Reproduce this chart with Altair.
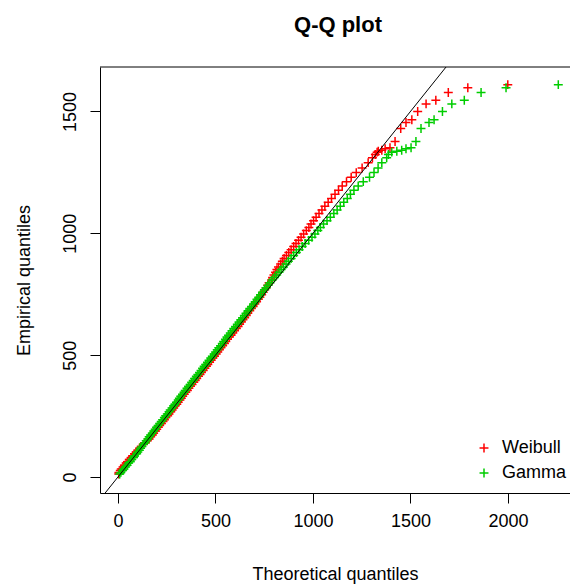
import altair as alt
import pandas as pd

# Sorted sample (empirical quantiles)
empirical = [
    12, 19, 27, 33, 41, 48, 57, 63, 72, 80, 86, 95, 103, 110, 118, 125, 134, 141, 149, 156,
    165, 172, 180, 189, 196, 204, 211, 220, 228, 235, 244, 251, 259, 268, 275, 283, 292, 299,
    307, 316, 323, 331, 340, 348, 355, 364, 372, 380, 389, 396, 404, 413, 421, 429, 437, 446,
    454, 462, 471, 479, 488, 496, 505, 513, 522, 530, 539, 548, 556, 565, 574, 582, 591, 600,
    609, 618, 627, 636, 645, 654, 663, 672, 682, 691, 700, 710, 719, 729, 738, 748, 758, 768,
    777, 787, 797,
    808, 819, 829, 840, 851, 862, 874, 885, 897, 909, 921, 933, 946, 958, 971, 984, 997, 1011,
    1024, 1038, 1052, 1066, 1081, 1096,
    1111, 1127, 1143, 1160, 1177, 1194, 1212, 1230, 1249, 1268,
    1290, 1310, 1323, 1333, 1337, 1341, 1347, 1351, 1377, 1430, 1455, 1466, 1500, 1531, 1546,
    1578, 1597, 1610,
]

# Theoretical quantiles of the fitted Weibull distribution
weibull_q = [
    4, 5, 12, 17, 26, 33, 42, 49, 58, 68, 75, 85, 94, 102, 111, 119, 130, 137, 150, 160,
    168, 176, 183, 193, 199, 207, 214, 223, 231, 238, 246, 255, 262, 271, 278, 286, 294, 302,
    309, 318, 325, 332, 340, 348, 356, 364, 372, 380, 389, 396, 404, 413, 421, 428, 437, 446,
    454, 461, 470, 478, 487, 495, 504, 512, 520, 528, 537, 546, 553, 562, 571, 580, 589, 598,
    607, 616, 624, 633, 641, 650, 658, 666, 676, 684, 693, 702, 711, 720, 728, 737, 745, 753,
    760, 768, 775,
    788, 793, 800, 808, 815, 823, 834, 843, 852, 864, 876, 888, 901, 913, 926, 939, 952, 966,
    979, 990, 1003, 1016, 1031, 1046,
    1061, 1078, 1095, 1113, 1131, 1150, 1172, 1196, 1222, 1252,
    1283, 1305, 1320, 1329, 1335, 1353, 1370, 1395, 1421, 1450, 1477, 1507, 1537, 1580, 1630,
    1694, 1794, 1999,
]

# Theoretical quantiles of the fitted gamma distribution
gamma_q = [
    9, 15, 24, 31, 38, 47, 55, 63, 71, 80, 85, 96, 102, 110, 116, 123, 131, 139, 145, 153,
    160, 167, 176, 184, 191, 198, 206, 214, 222, 229, 238, 245, 253, 262, 268, 277, 286, 292,
    300, 309, 315, 322, 331, 339, 345, 354, 362, 370, 378, 386, 393, 402, 410, 418, 426, 434,
    442, 450, 459, 467, 476, 484, 493, 501, 509, 517, 526, 535, 542, 551, 559, 567, 576, 585,
    594, 603, 612, 621, 630, 639, 648, 657, 667, 676, 685, 695, 704, 713, 722, 731, 741, 751,
    760, 770, 780,
    791, 803, 814, 826, 837, 849, 862, 874, 888, 901, 915, 929, 945, 960, 978, 995, 1010, 1025,
    1038, 1054, 1072, 1089, 1107, 1124,
    1140, 1158, 1176, 1192, 1210, 1232, 1258, 1290, 1313, 1334,
    1353, 1378, 1387, 1404, 1430, 1455, 1477, 1503, 1528, 1554, 1595, 1621, 1664, 1712, 1776,
    1862, 1990, 2258,
]

fits = ["Weibull", "Gamma"]
fit_colors = ["#FF0000", "#00CD00"]
x_ticks = [0, 500, 1000, 1500, 2000]
y_ticks = [0, 500, 1000, 1500]
x_range = [-92, 2318]
y_range = [-65.6, 1682.4]
# y = x reference line, spanning the vertical extent of the panel
diag_ends = [-65.6, 1682.4]

rows = []
for name, theo in zip(fits, (weibull_q, gamma_q)):
    for t, e in zip(theo, empirical):
        rows.append({"fit": name, "theoretical": t, "empirical": e})
points_df = pd.DataFrame(rows)
diag_df = pd.DataFrame({"theoretical": diag_ends, "empirical": diag_ends})

FONT = "Liberation Sans"
PLUS = "M-1,0L1,0M0,-1L0,1"

x_scale = alt.Scale(domain=x_range, nice=False, zero=False)
y_scale = alt.Scale(domain=y_range, nice=False, zero=False)

points = alt.Chart(points_df).mark_point(
    shape=PLUS, filled=False, size=80, strokeWidth=1.5, opacity=1
).encode(
    x=alt.X(
        "theoretical:Q",
        scale=x_scale,
        axis=alt.Axis(
            values=x_ticks,
            format="d",
            title="Theoretical quantiles",
            titleY=86,
            titleBaseline="alphabetic",
            labelPadding=9,
            labelBaseline="top",
        ),
    ),
    y=alt.Y(
        "empirical:Q",
        scale=y_scale,
        axis=alt.Axis(
            values=y_ticks,
            format="d",
            title="Empirical quantiles",
            titleX=-71,
            titleY=213,
            titleAngle=270,
            titleBaseline="alphabetic",
            titleAlign="center",
            labelAngle=270,
            labelAlign="center",
            labelBaseline="alphabetic",
            labelPadding=15,
        ),
    ),
    color=alt.Color(
        "fit:N",
        scale=alt.Scale(domain=fits, range=fit_colors),
        sort=fits,
        legend=alt.Legend(
            title=None,
            orient="none",
            legendX=375,
            legendY=372,
            symbolType=PLUS,
            symbolSize=80,
            symbolStrokeWidth=1.5,
            symbolFillColor="transparent",
            labelFontSize=18,
            labelFont=FONT,
            labelColor="#000000",
            labelOffset=9,
            rowPadding=7,
            padding=0,
        ),
    ),
)

diagonal = alt.Chart(diag_df).mark_line(
    color="#000000", strokeWidth=1
).encode(
    x=alt.X("theoretical:Q", scale=x_scale),
    y=alt.Y("empirical:Q", scale=y_scale),
)

top_edge = alt.Chart(pd.DataFrame({"a": [0]})).mark_rule(
    color="#000000", strokeWidth=1
).encode(x=alt.value(0), x2=alt.value(470), y=alt.value(0))

chart = alt.layer(points, diagonal, top_edge).properties(
    width=470,
    height=426,
    title=alt.TitleParams(
        "Q-Q plot",
        font=FONT,
        fontSize=22,
        fontWeight="bold",
        color="#000000",
        anchor="middle",
        frame="group",
        baseline="alphabetic",
        offset=11,
        dx=3,
    ),
    autosize=alt.AutoSizeParams(type="none"),
    padding={"left": 100, "top": 67, "right": 0, "bottom": 92},
).configure_view(
    strokeWidth=0
).configure_axis(
    grid=False,
    domainColor="#000000",
    domainWidth=1,
    tickColor="#000000",
    tickSize=10,
    tickWidth=1,
    labelFont=FONT,
    labelFontSize=18,
    labelColor="#000000",
    titleFont=FONT,
    titleFontSize=18,
    titleFontWeight="normal",
    titleColor="#000000",
)

chart.save("out.html", embed_options={"renderer": "svg", "actions": False})
